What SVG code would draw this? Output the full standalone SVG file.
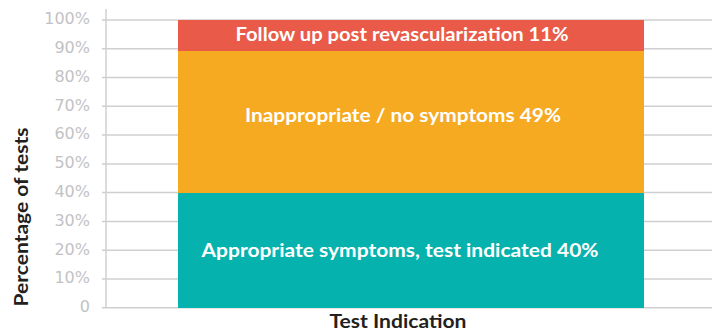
<svg xmlns="http://www.w3.org/2000/svg" width="718" height="331" viewBox="0 0 718 331">
<style>
.grid{stroke:#cfcfd1;stroke-width:1.5}
.tick{font-family:"DejaVu Sans","Liberation Sans",sans-serif;font-size:16px;fill:#c2c2c4;text-anchor:end}
.bar{font-family:Lato,"Liberation Sans",sans-serif;font-weight:bold;font-size:18px;fill:#ffffff;text-anchor:middle}
.axis{font-family:Lato,"Liberation Sans",sans-serif;font-weight:bold;font-size:18px;fill:#231f20;text-anchor:middle}
</style>
<rect width="718" height="331" fill="#ffffff"/>
<g id="grid">
<line class="grid" x1="102" y1="20" x2="712" y2="20"/>
<line class="grid" x1="102" y1="48.8" x2="712" y2="48.8"/>
<line class="grid" x1="102" y1="77.5" x2="712" y2="77.5"/>
<line class="grid" x1="102" y1="106.3" x2="712" y2="106.3"/>
<line class="grid" x1="102" y1="135.1" x2="712" y2="135.1"/>
<line class="grid" x1="102" y1="163.9" x2="712" y2="163.9"/>
<line class="grid" x1="102" y1="192.6" x2="712" y2="192.6"/>
<line class="grid" x1="102" y1="221.4" x2="712" y2="221.4"/>
<line class="grid" x1="102" y1="250.2" x2="712" y2="250.2"/>
<line class="grid" x1="102" y1="278.9" x2="712" y2="278.9"/>
<line class="grid" x1="102" y1="307.7" x2="712" y2="307.7"/>
<line class="grid" x1="106" y1="9" x2="106" y2="308"/>
</g>
<g id="ticks">
<text class="tick" x="90" y="24.3">100%</text>
<text class="tick" x="90" y="53.1">90%</text>
<text class="tick" x="90" y="81.8">80%</text>
<text class="tick" x="90" y="110.6">70%</text>
<text class="tick" x="90" y="139.4">60%</text>
<text class="tick" x="90" y="168.2">50%</text>
<text class="tick" x="90" y="196.9">40%</text>
<text class="tick" x="90" y="225.7">30%</text>
<text class="tick" x="90" y="254.5">20%</text>
<text class="tick" x="90" y="283.2">10%</text>
<text class="tick" x="90" y="312">0</text>
</g>
<g id="seg-followup">
<rect x="178" y="20" width="466" height="31" fill="#ea5a48"/>
<text class="bar" x="402" y="41" textLength="333" lengthAdjust="spacingAndGlyphs">Follow up post revascularization 11%</text>
</g>
<g id="seg-inappropriate">
<rect x="178" y="51" width="466" height="142" fill="#f6aa21"/>
<text class="bar" x="403" y="121.5" textLength="316" lengthAdjust="spacingAndGlyphs">Inappropriate / no symptoms 49%</text>
</g>
<g id="seg-appropriate">
<rect x="178" y="193" width="466" height="115" fill="#06b2ad"/>
<text class="bar" x="400" y="256.7" textLength="397" lengthAdjust="spacingAndGlyphs">Appropriate symptoms, test indicated 40%</text>
</g>
<g id="axis-labels">
<text class="axis" x="398" y="327.5" textLength="137" lengthAdjust="spacingAndGlyphs">Test Indication</text>
<text class="axis" transform="translate(28,217) rotate(-90)" x="0" y="0" textLength="179" lengthAdjust="spacingAndGlyphs">Percentage of tests</text>
</g>
</svg>
